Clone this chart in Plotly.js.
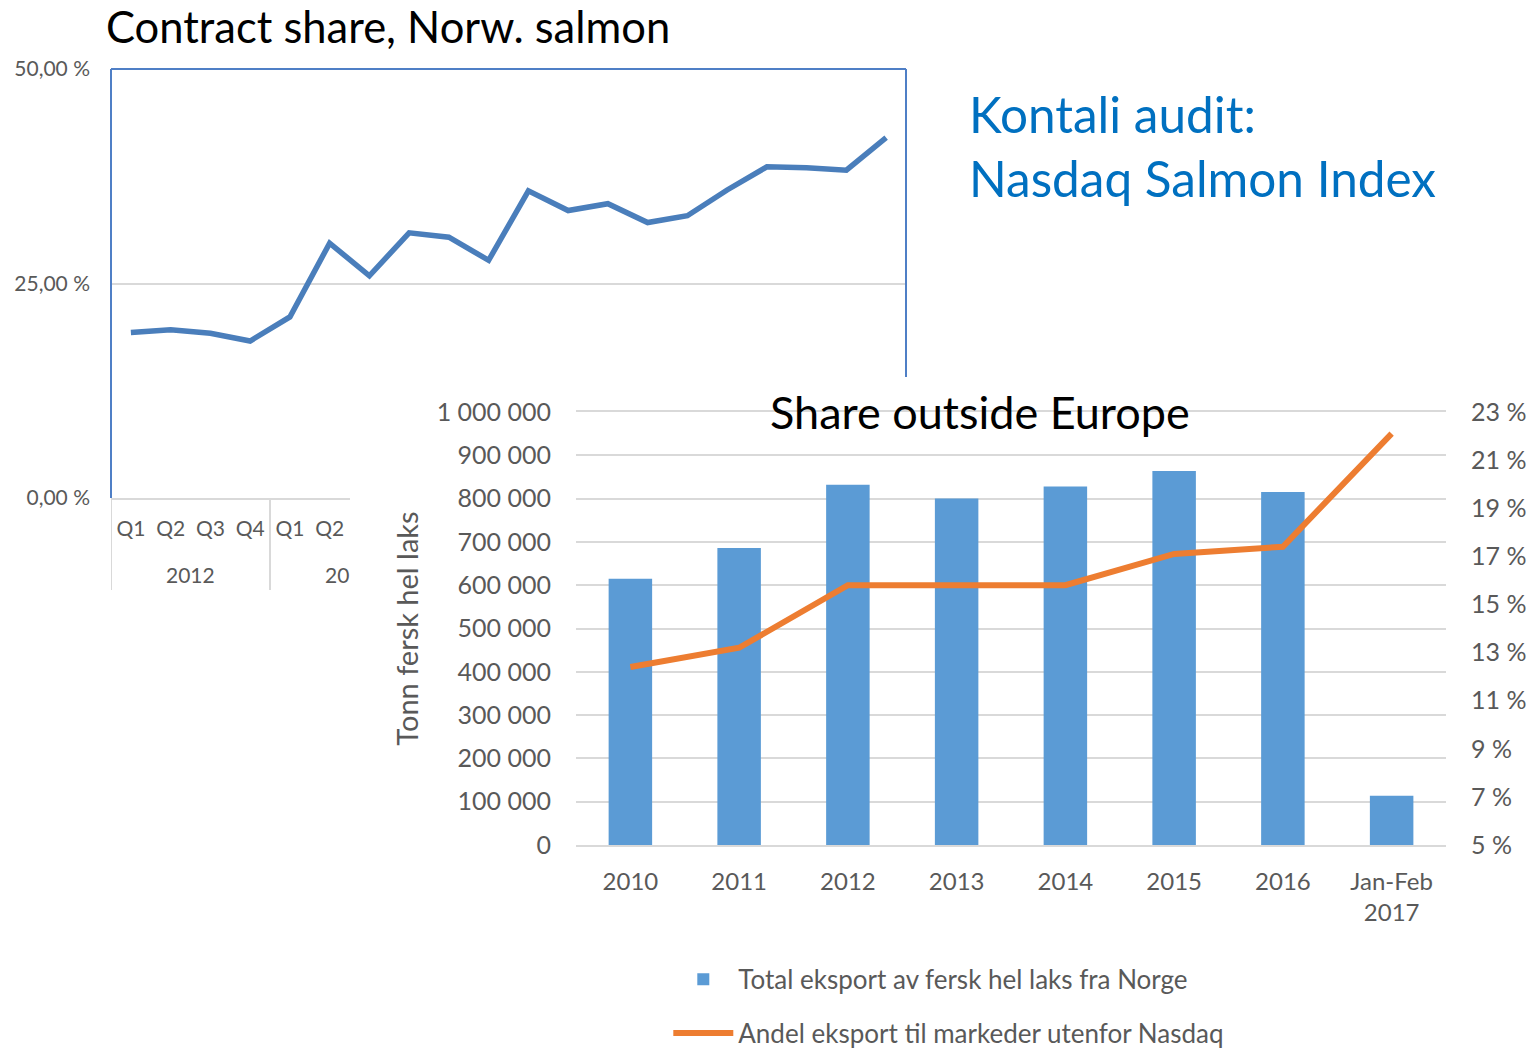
<!DOCTYPE html>
<html><head><meta charset="utf-8">
<script src="https://cdn.plot.ly/plotly-3.0.1.min.js"></script>
<style>
html,body{margin:0;padding:0;background:#fff;width:1533px;height:1048px;overflow:hidden;}
#c1{position:absolute;left:0;top:0;width:1533px;height:1048px;}
#c2{position:absolute;left:350px;top:377px;width:1183px;height:671px;}
</style></head><body>
<div id="c1"></div><div id="c2"></div>
<script>
// ---- data: contract share (top chart) ----
const contractYears = ['2012','2013','2014','2015','2016'];
const contractQuarters = ['Q1','Q2','Q3','Q4'];
const contractShare = [19.3,19.6,19.2,18.3,21.1,29.7,25.9,30.9,30.4,27.7,35.8,33.5,34.3,32.1,32.9,35.9,38.6,38.5,38.2,42.0];
const contractTickVals = [0,25,50];
const contractTickText = ['0,00 %','25,00 %','50,00 %'];

// ---- data: share outside Europe (bottom chart) ----
const exportCategories = ['2010','2011','2012','2013','2014','2015','2016','Jan-Feb<br>2017'];
const exportTonnes = [615000,686000,832000,800000,828000,864000,815000,114000];
const shareOutsideNasdaq = [12.4,13.2,15.8,15.8,15.8,17.1,17.4,22.1];

const FONT = 'Lato, "Open Sans", sans-serif';
const GRAY = '#595959';
const GRID = '#D9D9D9';
const FRAME = '#4F7FC6';

// quarter index + labels built from the year/quarter arrays
const xIdx = [], xQ = [];
contractYears.forEach((y, k) => contractQuarters.forEach((q, j) => { xIdx.push(k * contractQuarters.length + j); xQ.push(q); }));
// only the part of the top chart's axis that is not covered by the second chart is labelled
const VISIBLE_Q = 6, VISIBLE_Y = 2;
const nq = contractQuarters.length;

const yearAnn = contractYears.slice(0, VISIBLE_Y).map((y, k) => ({
  text: y, xref: 'x', yref: 'paper', x: k * nq + (nq - 1) / 2, y: (498 - 574) / 429,
  xanchor: 'center', yanchor: 'middle', showarrow: false, font: {size: 21, color: GRAY, family: FONT}
}));
const dividers = contractYears.slice(0, VISIBLE_Y).map((y, k) => ({
  type: 'line', xref: 'x', yref: 'paper', x0: k * nq - 0.5, x1: k * nq - 0.5, y0: 0, y1: (498 - 590) / 429,
  line: {color: GRID, width: 2}
}));

Plotly.newPlot('c1', [{
  type:'scatter', mode:'lines', x:xIdx, y:contractShare,
  line:{color:'#4A7EBB', width:5.5}, showlegend:false, hoverinfo:'skip'
}], {
  width:1533, height:1048,
  margin:{l:111, r:627, t:69, b:550, autoexpand:false},
  paper_bgcolor:'#fff', plot_bgcolor:'#fff',
  font:{family:FONT, color:GRAY},
  title:{text:'Contract share, Norw. salmon', xref:'container', x:106/1533, xanchor:'left',
         yref:'container', y:1-28/1048, yanchor:'middle', font:{size:43.5, color:'#000', family:FONT}},
  xaxis:{type:'linear', range:[-0.5, xIdx.length - 0.5], tickvals:xIdx.slice(0, VISIBLE_Q), ticktext:xQ.slice(0, VISIBLE_Q),
         showgrid:false, zeroline:false, showline:true, linecolor:GRID, linewidth:2, ticks:'',
         tickfont:{size:21, color:GRAY}, ticklabelstandoff:11, fixedrange:true},
  yaxis:{range:[0,50], tickvals:contractTickVals, ticktext:contractTickText, showgrid:true, gridcolor:GRID, gridwidth:2,
         zeroline:false, showline:false, ticks:'', tickfont:{size:21, color:GRAY}, ticklabelstandoff:20, fixedrange:true},
  shapes:[
    ...dividers,
    {type:'line', xref:'paper', yref:'paper', x0:0, x1:0, y0:0, y1:1, line:{color:FRAME, width:2}},
    {type:'line', xref:'paper', yref:'paper', x0:0, x1:1, y0:1, y1:1, line:{color:FRAME, width:2}},
    {type:'line', xref:'paper', yref:'paper', x0:1, x1:1, y0:0, y1:1, line:{color:FRAME, width:2}}
  ],
  annotations:[
    ...yearAnn,
    {text:'Kontali audit:', xref:'paper', yref:'paper', x:(967-111)/795, y:(498-114)/429, xanchor:'left', yanchor:'middle',
     showarrow:false, font:{size:49.5, color:'#0070C0', family:FONT}},
    {text:'Nasdaq Salmon Index', xref:'paper', yref:'paper', x:(967-111)/795, y:(498-178)/429, xanchor:'left', yanchor:'middle',
     showarrow:false, font:{size:49.5, color:'#0070C0', family:FONT}}
  ]
}, {staticPlot:true});

Plotly.newPlot('c2', [
  {type:'bar', x:exportCategories, y:exportTonnes, name:'Total eksport av fersk hel laks fra Norge',
   marker:{color:'#5B9BD5'}, legendgroup:'a', hoverinfo:'skip'},
  {type:'scatter', mode:'lines', x:exportCategories, y:shareOutsideNasdaq, yaxis:'y2',
   name:'Andel eksport til markeder utenfor Nasdaq', line:{color:'#ED7D31', width:6}, legendgroup:'b', hoverinfo:'skip'}
], {
  width:1183, height:671,
  margin:{l:225.6, r:86.5, t:34.7, b:203, autoexpand:false},
  paper_bgcolor:'#fff', plot_bgcolor:'#fff',
  separators:', ',
  font:{family:FONT, color:GRAY},
  bargap:0.6,
  xaxis:{type:'category', ticks:'', showgrid:false, showline:true, mirror:true, linecolor:GRID, linewidth:2,
         tickfont:{size:24, color:GRAY}, ticklabelstandoff:14, fixedrange:true},
  yaxis:{range:[0,1000000], dtick:100000, tickformat:',d', showgrid:true, gridcolor:GRID, gridwidth:2, zeroline:false,
         ticks:'', tickfont:{size:25, color:GRAY}, ticklabelstandoff:24, fixedrange:true,
         title:{text:'Tonn fersk hel laks', font:{size:29, color:GRAY, family:FONT}, standoff:9}},
  yaxis2:{overlaying:'y', side:'right', range:[5,23], tick0:5, dtick:2, ticksuffix:' %', showgrid:false, zeroline:false,
          ticks:'', tickfont:{size:25, color:GRAY}, ticklabelstandoff:24, fixedrange:true},
  legend:{orientation:'v', x:(668-575.6)/870.9, xanchor:'left', y:(845-956)/433.3, yanchor:'top',
          font:{size:26, color:GRAY, family:FONT}, itemwidth:60, tracegroupgap:17, traceorder:'grouped', bgcolor:'rgba(0,0,0,0)'},
  annotations:[
    {text:'Share outside Europe', xref:'paper', yref:'paper', x:(980.5-575.6)/870.9, y:1, xanchor:'center', yanchor:'middle',
     showarrow:false, font:{size:45, color:'#000', family:FONT}}
  ]
}, {staticPlot:true});
</script>
</body></html>
